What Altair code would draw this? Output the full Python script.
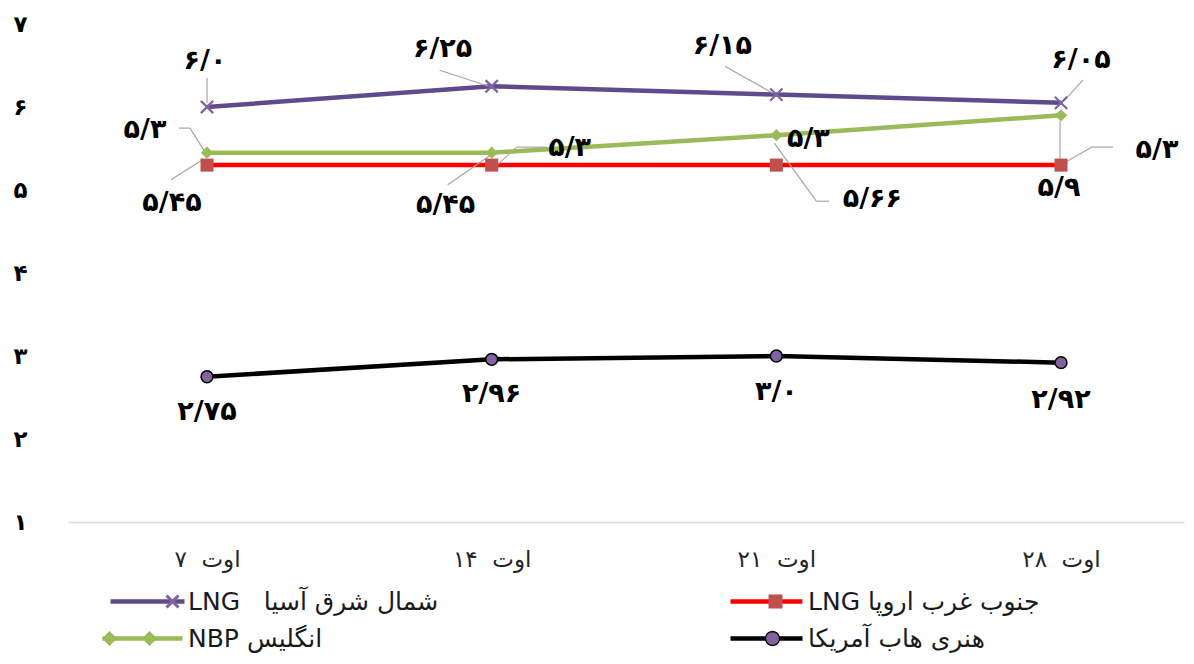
import json
import math
import altair as alt
import pandas as pd

# ---------------- data ----------------
CATEGORIES = ["اوت\u00a0 ۷", "اوت\u00a0 ۱۴", "اوت\u00a0 ۲۱", "اوت\u00a0 ۲۸"]
SERIES = ["LNG\u00a0\u00a0 شمال شرق آسیا", "LNG جنوب غرب اروپا", "NBP انگلیس", "هنری هاب آمریکا"]
NE_ASIA_LNG = [6.0, 6.25, 6.15, 6.05]
SW_EUROPE_LNG = [5.3, 5.3, 5.3, 5.3]
UK_NBP = [5.45, 5.45, 5.66, 5.9]
HENRY_HUB = [2.75, 2.96, 3.0, 2.92]
Y_TICKS = [1, 2, 3, 4, 5, 6, 7]
Y_TICK_LABELS = ["۱", "۲", "۳", "۴", "۵", "۶", "۷"]

VALUES = [NE_ASIA_LNG, SW_EUROPE_LNG, UK_NBP, HENRY_HUB]

# ---------------- styles ----------------
LINE_COLORS = ["#5F4B8B", "#FF0000", "#9BBB59", "#000000"]
MARKER_COLORS = ["#8064A2", "#C0504D", "#9BBB59", "#8064A2"]
FONT = "DejaVu Sans"
LEADER = "#A6A6A6"

FA_DIGITS = str.maketrans("0123456789.", "۰۱۲۳۴۵۶۷۸۹/")


def fa(v):
    return str(v).translate(FA_DIGITS)


rows = []
for sid, (name, vals) in enumerate(zip(SERIES, VALUES)):
    for i, v in enumerate(vals):
        rows.append({"sid": sid, "series": name, "idx": i, "value": v, "label": fa(v)})
df = pd.DataFrame(rows)

x_scale = alt.Scale(domain=[-0.4883, 3.432], nice=False, zero=False)
y_scale = alt.Scale(domain=[1, 7], nice=False, zero=False)

x_axis = alt.Axis(
    values=[0, 1, 2, 3],
    labelExpr=json.dumps(CATEGORIES, ensure_ascii=False) + "[datum.value]",
    title=None, grid=False, ticks=False, domainColor="#D9D9D9", domainWidth=1.5,
    labelFontSize=23, labelFont=FONT, labelColor="#262626", labelPadding=26,
    labelFlush=False, labelOverlap=False,
)
y_axis = alt.Axis(
    values=Y_TICKS,
    labelExpr=json.dumps(Y_TICK_LABELS, ensure_ascii=False) + "[datum.value - 1]",
    title=None, grid=False, ticks=False, domain=False,
    labelFontSize=23, labelFontWeight="bold", labelFont=FONT, labelColor="#000000",
    labelAlign="center", labelBaseline="middle", labelPadding=48,
)


def X():
    return alt.X("idx:Q", scale=x_scale, axis=x_axis)


def Y():
    return alt.Y("value:Q", scale=y_scale, axis=y_axis)


base = alt.Chart(df)

lines = base.mark_line(strokeWidth=4.5).encode(
    x=X(), y=Y(),
    stroke=alt.Stroke("series:N", scale=alt.Scale(domain=SERIES, range=LINE_COLORS), legend=None),
    detail="series:N",
)


def one(sid, i):
    return base.transform_filter(f"datum.sid == {sid} && datum.idx == {i}")


# leader lines: (sid, idx, [(x1,y1,x2,y2), ...]) offsets relative to the point
LEADERS = [
    (0, 0, [(0, -29, 0, -4)]),
    (0, 1, [(-52, -16, -3, 0)]),
    (0, 2, [(-51, -28, -3, -1)]),
    (0, 3, [(22, -23, 3, -2)]),
    (1, 0, [(-28, -37, -17, -37), (-17, -37, -2, -13)]),
    (2, 0, [(-36, 27, -6, 8)]),
    (1, 1, [(55, -18, 25, -18), (25, -18, 1, 4)]),
    (2, 1, [(-44, 32, -2, 3)]),
    (2, 2, [(53, 66, 40, 66), (40, 66, -2, 8)]),
    (1, 3, [(52, -18, 31, -18), (31, -18, 3, -2)]),
    (2, 3, [(-1, 6, -1, 51)]),
]
leader_layers = []
for sid, i, segs in LEADERS:
    for (a, b, c, d) in segs:
        leader_layers.append(
            one(sid, i).mark_rule(color=LEADER, strokeWidth=1.2,
                                  xOffset=a, yOffset=b, x2Offset=c, y2Offset=d).encode(
                x=X(), y=Y(), x2="idx:Q", y2="value:Q")
        )

points = [
    base.transform_filter("datum.sid == 0").mark_point(
        shape="M-1,-1L1,1M-1,1L1,-1", filled=False, stroke=MARKER_COLORS[0], strokeWidth=2.2, size=150, opacity=1
    ).encode(x=X(), y=Y()),
    base.transform_filter("datum.sid == 1").mark_point(
        shape="square", filled=True, fill=MARKER_COLORS[1], size=170, opacity=1
    ).encode(x=X(), y=Y()),
    base.transform_filter("datum.sid == 2").mark_point(
        shape="diamond", filled=True, fill=MARKER_COLORS[2], size=150, opacity=1
    ).encode(x=X(), y=Y()),
    base.transform_filter("datum.sid == 3").mark_point(
        shape="circle", filled=True, fill=MARKER_COLORS[3], stroke="#000000", strokeWidth=1.5, size=140, opacity=1
    ).encode(x=X(), y=Y()),
]

# label offsets (dx, dy) relative to the point, per series
LABEL_OFFSETS = [
    [(-2, -46), (-49, -37), (-54, -49), (20, -43)],
    [(-62, -35), (78, -17), (32, -26), (96, -15)],
    [(-35, 50), (-46, 52), (96, 64), (-2, 73)],
    [(0, 35), (0, 35), (0, 36), (0, 37)],
]
text_layers = []
for sid in range(4):
    for i in range(4):
        dx, dy = LABEL_OFFSETS[sid][i]
        text_layers.append(
            one(sid, i).mark_text(dx=dx, dy=dy, fontSize=27, fontWeight="bold", font=FONT,
                                  color="#000000", align="center", baseline="middle").encode(
                x=X(), y=Y(), text="label:N")
        )


# legend symbols as filled polygons (10 px per unit, symbol box starts at x=-1)
def f(v):
    return f"{v:.3f}"


def poly(pts):
    return "M" + "L".join(f"{f(a)},{f(b)}" for a, b in pts) + "Z"


def bar(x0, x1, h=0.22):
    return poly([(x0, -h), (x1, -h), (x1, h), (x0, h)])


def xmark(cx, a=0.6, t=0.11):
    d1 = poly([(cx - a + t, -a - t), (cx + a + t, a - t), (cx + a - t, a + t), (cx - a - t, -a + t)])
    d2 = poly([(cx - a + t, a + t), (cx - a - t, a - t), (cx + a - t, -a - t), (cx + a + t, -a + t)])
    return d1 + d2


def sq(cx, h=0.7):
    return poly([(cx - h, -h), (cx + h, -h), (cx + h, h), (cx - h, h)])


def dia(cx, r=0.75):
    return poly([(cx, -r), (cx + r, 0), (cx, r), (cx - r, 0)])


def circ(cx, r=0.7, n=20):
    return poly([(cx + r * math.cos(2 * math.pi * k / n), r * math.sin(2 * math.pi * k / n)) for k in range(n)])


LEGEND_BARS = [bar(-1, 6.4), bar(-1, 6.2), bar(-1.8, 6.2), bar(-1, 6.2)]
LEGEND_MARKERS = [xmark(5.2), sq(3.5), dia(-1.1) + dia(2.9), circ(3.2)]
# legend placement (relative to plot origin): column x, row top
LEGEND_POS = [(40, 565), (660, 565), (40, 602), (660, 602)]


def legend_layer(k, marker):
    lx, ly = LEGEND_POS[k]
    leg = alt.Legend(
        title=None, orient="none", legendX=lx, legendY=ly, padding=0,
        symbolSize=400, symbolType=LEGEND_MARKERS[k] if marker else LEGEND_BARS[k],
        symbolStrokeWidth=1.3 if (marker and k == 3) else 0,
        symbolStrokeColor="#000000", symbolOpacity=1,
        labelOffset=55, labelFontSize=25, labelFont=FONT, labelColor="#1A1A1A",
        labelOpacity=0 if marker else 1, labelLimit=600, labelBaseline="middle",
    )
    color = MARKER_COLORS[k] if marker else LINE_COLORS[k]
    return base.transform_filter(f"datum.sid == {k}").mark_point(filled=True, opacity=0).encode(
        x=X(), y=Y(),
        fill=alt.Fill("series:N", scale=alt.Scale(domain=[SERIES[k]], range=[color]), legend=leg),
    )


legend_layers = [legend_layer(k, m) for k in range(4) for m in (False, True)]

chart = alt.layer(lines, *leader_layers, *points, *text_layers, *legend_layers).resolve_scale(
    fill="independent"
).properties(
    width=1116, height=498,
    autosize=alt.AutoSizeParams(type="none"),
    padding={"left": 60, "top": 16, "right": 2, "bottom": 134},
).configure_view(stroke=None)

chart.save("out.html", embed_options={"renderer": "svg", "actions": False})
